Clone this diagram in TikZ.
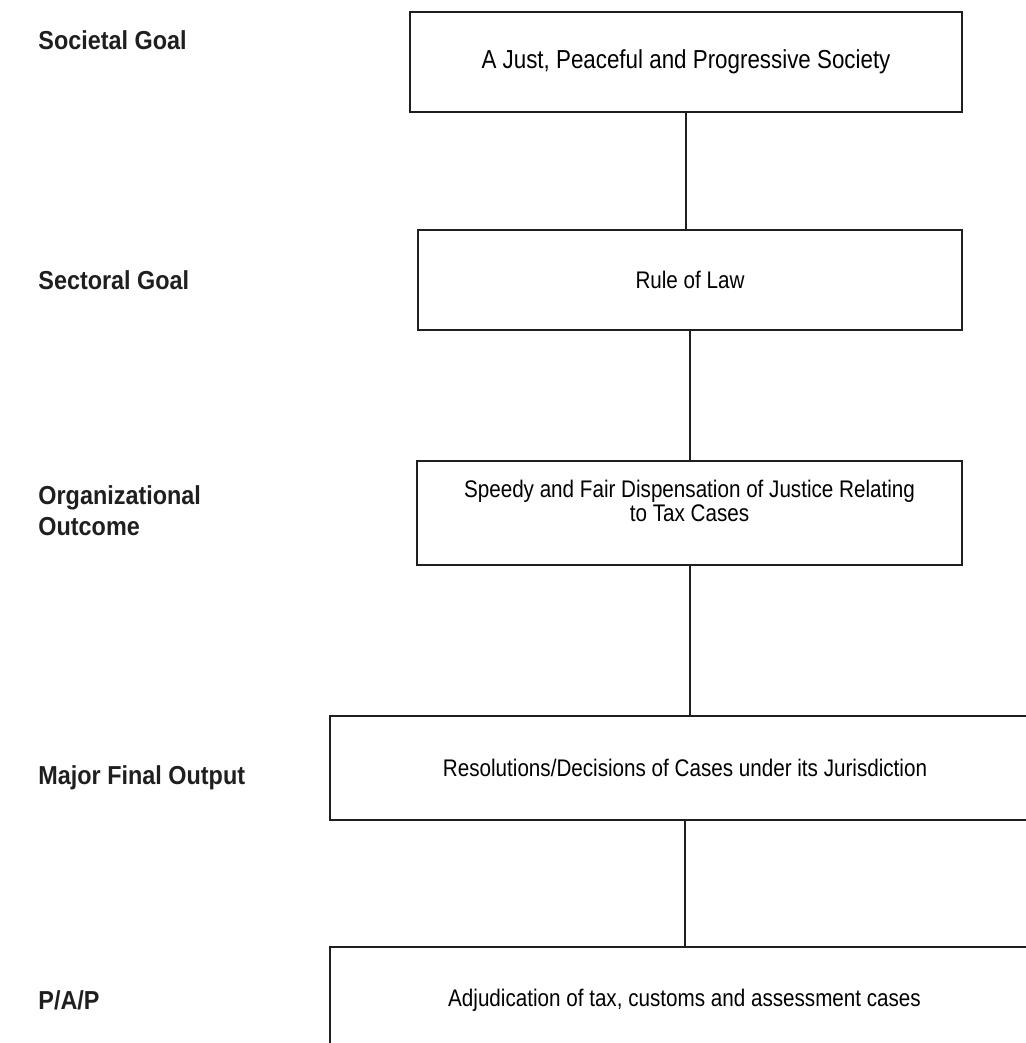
\documentclass[tikz,border=0pt]{standalone}
\usepackage{fontspec}
\setmainfont{Liberation Sans}
\newfontfamily\boxfont{Liberation Sans}[FakeStretch=0.86]
\newfontfamily\lvlfont{Liberation Sans}[FakeStretch=0.9]
\usepackage{tikz}
\usetikzlibrary{positioning}

\begin{document}
\begin{tikzpicture}[x=0.5pt,y=-0.5pt,line join=miter,
    box/.style={draw=black!88,line width=1pt,inner sep=0pt,font=\boxfont\fontsize{12}{12.5}\selectfont},
    lvl/.style={anchor=west,inner sep=0pt,align=left,font=\lvlfont\bfseries\fontsize{13}{15.5}\selectfont,text=black!88}]
  \useasboundingbox (0,0) rectangle (1026,1043);
  \clip (0,0) rectangle (1026,1043);
  % level names on the left
  \node[lvl] (lsoc) at (38,40) {Societal Goal};
  \node[lvl] (lsec) at (38,280) {Sectoral Goal};
  \node[lvl] (lorg) at (38,511) {Organizational\\Outcome};
  \node[lvl] (lmfo) at (38,778) {Major Final Output};
  \node[lvl] (lpap) at (38,1000) {P/A/P};
  % the chain of boxes
  \node[box,minimum width=276pt,minimum height=50pt,font=\boxfont\fontsize{13}{14}\selectfont]
    (soc) at (686,62) {A Just, Peaceful and Progressive Society};
  \node[box,minimum width=272pt,minimum height=50pt] (sec) at (690,280) {Rule of Law};
  \node[box,minimum width=272.5pt,minimum height=52pt,
    label={[align=center,yshift=6pt,font=\boxfont\fontsize{12}{12}\selectfont]center:Speedy and Fair Dispensation of Justice Relating\\to Tax Cases}]
    (org) at (689.5,513) {};
  \node[box,minimum width=355pt,minimum height=52pt] (mfo) at (685,768)
    {Resolutions/Decisions of Cases under its Jurisdiction};
  \node[box,minimum width=355pt,minimum height=61.5pt] (pap) at (684.5,1008.5) {};
  \node[font=\boxfont\fontsize{12}{12.5}\selectfont,inner sep=0pt] (paptxt) at (684.5,1000)
    {Adjudication of tax, customs and assessment cases};
  % connectors
  \draw[black!88,line width=1pt] (soc.south) -- (soc.south |- sec.north);
  \draw[black!88,line width=1pt] (sec.south) -- (sec.south |- org.north);
  \draw[black!88,line width=1pt] (org.south) -- (org.south |- mfo.north);
  \draw[black!88,line width=1pt] (mfo.south) -- (mfo.south |- pap.north);
\end{tikzpicture}
\end{document}
